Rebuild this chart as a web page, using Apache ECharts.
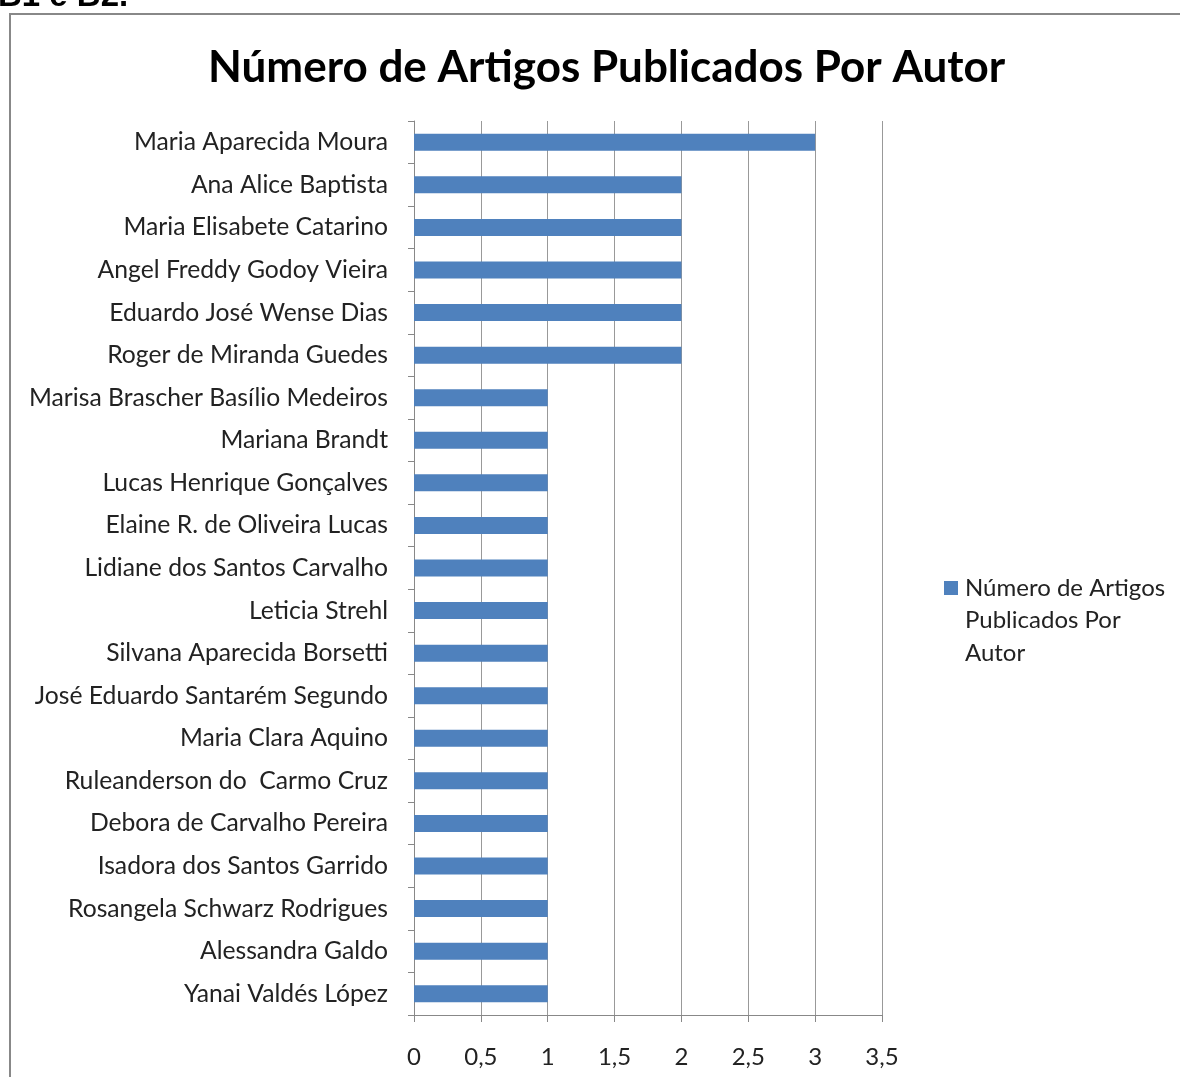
<!DOCTYPE html>
<html>
<head>
<meta charset="utf-8">
<script src="https://cdn.jsdelivr.net/npm/echarts@6/dist/echarts.min.js"></script>
<style>
  html, body { margin: 0; padding: 0; background: #fff; }
  #chart { width: 1180px; height: 1077px; }
</style>
</head>
<body>
<div id="chart"></div>
<script>
// autores, de cima para baixo
var authors = [
    'Maria Aparecida Moura',
    'Ana Alice Baptista',
    'Maria Elisabete Catarino',
    'Angel Freddy Godoy Vieira',
    'Eduardo José Wense Dias',
    'Roger de Miranda Guedes',
    'Marisa Brascher Basílio Medeiros',
    'Mariana Brandt',
    'Lucas Henrique Gonçalves',
    'Elaine R. de Oliveira Lucas',
    'Lidiane dos Santos Carvalho',
    'Leticia Strehl',
    'Silvana Aparecida Borsetti',
    'José Eduardo Santarém Segundo',
    'Maria Clara Aquino',
    'Ruleanderson do  Carmo Cruz',
    'Debora de Carvalho Pereira',
    'Isadora dos Santos Garrido',
    'Rosangela Schwarz Rodrigues',
    'Alessandra Galdo',
    'Yanai Valdés López'
]
var articles = [3, 2, 2, 2, 2, 2, 1, 1, 1, 1, 1, 1, 1, 1, 1, 1, 1, 1, 1, 1, 1]
var seriesName = 'Número de Artigos Publicados Por Autor'

var font = 'Lato, "Open Sans", sans-serif'
var chart = echarts.init(document.getElementById('chart'))
var option = {
    animation: false,
    title: {
        text: seriesName,
        left: 203,
        top: 41,
        textStyle: {
            fontFamily: font,
            fontWeight: 'bold',
            fontSize: 44,
            color: '#000'
        }
    },
    legend: {
        orient: 'vertical',
        left: 944,
        top: 576,
        padding: 0,
        itemWidth: 14,
        itemHeight: 14,
        icon: 'rect',
        // legenda quebrada em 3 linhas: so a 1a linha fica ao lado do icone
        formatter: function () {
            return 'Número de Artigos'
        },
        textStyle: {
            fontFamily: font,
            fontSize: 24,
            color: '#222',
            padding: [0, 0, 0, 2]
        },
        data: [seriesName]
    },
    grid: {
        left: 414,
        right: 298,
        top: 121,
        bottom: 62
    },
    xAxis: {
        type: 'value',
        min: 0,
        max: 3.5,
        interval: 0.5,
        axisLine: { show: true, lineStyle: { color: '#888', width: 1 } },
        axisTick: { show: true, length: 7, lineStyle: { color: '#888' } },
        splitLine: { show: true, lineStyle: { color: '#999', width: 1 } },
        axisLabel: {
            margin: 30,
            fontFamily: font,
            fontSize: 24,
            color: '#222',
            formatter: function (v) { return String(v).replace('.', ',') }
        }
    },
    yAxis: {
        type: 'category',
        inverse: true,
        data: authors,
        axisLine: { show: true, lineStyle: { color: '#888', width: 1 } },
        axisTick: { show: true, length: 6, lineStyle: { color: '#888' } },
        axisLabel: {
            margin: 26,
            fontFamily: font,
            fontSize: 24.7,
            color: '#222'
        }
    },
    series: [
        {
            name: seriesName,
            type: 'bar',
            data: articles,
            barWidth: 17,
            itemStyle: { color: '#4f81bd' }
        }
    ],
    graphic: [
        {
            type: 'rect',
            shape: { x: 10, y: 14, width: 1200, height: 1100 },
            style: { fill: 'none', stroke: '#888', lineWidth: 2 },
            silent: true
        },
        {
            type: 'text',
            x: -2,
            y: -20,
            style: {
                text: 'B1 e B2.',
                font: 'bold 33px "Liberation Sans", Arial, sans-serif',
                fill: '#000'
            }
        },
        {
            type: 'text',
            x: 965,
            y: 604,
            style: {
                text: 'Publicados Por\nAutor',
                font: '24px Lato, "Open Sans", sans-serif',
                lineHeight: 33,
                fill: '#222'
            }
        }
    ]
}
chart.setOption(option)
window.addEventListener('resize', function () { chart.resize() })
</script>
</body>
</html>
